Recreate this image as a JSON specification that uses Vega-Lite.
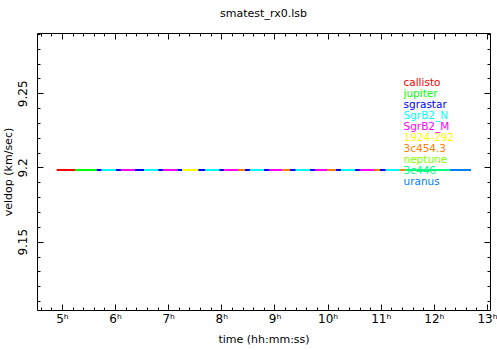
{
  "$schema": "https://vega.github.io/schema/vega-lite/v6.json",
  "width": 453,
  "height": 277,
  "autosize": {"type": "none"},
  "padding": {"left": 37, "top": 33, "right": 7, "bottom": 40},
  "background": "white",
  "title": {"text": "smatest_rx0.lsb", "font": "DejaVu Sans", "fontSize": 11, "fontWeight": "normal", "color": "black", "offset": 14},
  "config": {
    "view": {"stroke": "black", "strokeWidth": 1},
    "font": "DejaVu Sans",
    "axis": {"domain": false, "grid": false, "labelFont": "DejaVu Sans", "labelFontSize": 11, "labelColor": "black", "titleFont": "DejaVu Sans", "titleFontSize": 11, "titleFontWeight": "normal", "titleColor": "black", "tickColor": "black", "labelOverlap": false, "labelBound": false, "labelFlush": false}
  },
  "data": {"values": [
    {"src": "callisto", "t0": 4.90, "t1": 5.245, "v": 9.1983},
    {"src": "jupiter", "t0": 5.245, "t1": 5.653, "v": 9.1983},
    {"src": "sgrastar", "t0": 5.653, "t1": 5.747, "v": 9.1983},
    {"src": "SgrB2_N", "t0": 5.747, "t1": 6.016, "v": 9.1983},
    {"src": "sgrastar", "t0": 6.016, "t1": 6.11, "v": 9.1983},
    {"src": "SgrB2_M", "t0": 6.11, "t1": 6.374, "v": 9.1983},
    {"src": "sgrastar", "t0": 6.374, "t1": 6.549, "v": 9.1983},
    {"src": "SgrB2_N", "t0": 6.549, "t1": 6.813, "v": 9.1983},
    {"src": "sgrastar", "t0": 6.813, "t1": 6.907, "v": 9.1983},
    {"src": "SgrB2_M", "t0": 6.907, "t1": 7.17, "v": 9.1983},
    {"src": "sgrastar", "t0": 7.17, "t1": 7.264, "v": 9.1983},
    {"src": "1924-292", "t0": 7.264, "t1": 7.566, "v": 9.1983},
    {"src": "sgrastar", "t0": 7.566, "t1": 7.692, "v": 9.1983},
    {"src": "SgrB2_N", "t0": 7.692, "t1": 7.961, "v": 9.1983},
    {"src": "sgrastar", "t0": 7.961, "t1": 8.055, "v": 9.1983},
    {"src": "SgrB2_M", "t0": 8.055, "t1": 8.318, "v": 9.1983},
    {"src": "3c454.3", "t0": 8.318, "t1": 8.445, "v": 9.1983},
    {"src": "sgrastar", "t0": 8.445, "t1": 8.539, "v": 9.1983},
    {"src": "SgrB2_N", "t0": 8.539, "t1": 8.802, "v": 9.1983},
    {"src": "sgrastar", "t0": 8.802, "t1": 8.896, "v": 9.1983},
    {"src": "SgrB2_M", "t0": 8.896, "t1": 9.154, "v": 9.1983},
    {"src": "3c454.3", "t0": 9.154, "t1": 9.292, "v": 9.1983},
    {"src": "sgrastar", "t0": 9.292, "t1": 9.399, "v": 9.1983},
    {"src": "SgrB2_N", "t0": 9.399, "t1": 9.668, "v": 9.1983},
    {"src": "sgrastar", "t0": 9.668, "t1": 9.762, "v": 9.1983},
    {"src": "SgrB2_M", "t0": 9.762, "t1": 10.001, "v": 9.1983},
    {"src": "3c454.3", "t0": 10.001, "t1": 10.158, "v": 9.1983},
    {"src": "sgrastar", "t0": 10.158, "t1": 10.252, "v": 9.1983},
    {"src": "SgrB2_N", "t0": 10.252, "t1": 10.515, "v": 9.1983},
    {"src": "sgrastar", "t0": 10.515, "t1": 10.609, "v": 9.1983},
    {"src": "SgrB2_M", "t0": 10.609, "t1": 10.873, "v": 9.1983},
    {"src": "3c454.3", "t0": 10.873, "t1": 10.986, "v": 9.1983},
    {"src": "sgrastar", "t0": 10.986, "t1": 11.093, "v": 9.1983},
    {"src": "SgrB2_N", "t0": 11.093, "t1": 11.362, "v": 9.1983},
    {"src": "3c454.3", "t0": 11.362, "t1": 11.456, "v": 9.1983},
    {"src": "3c446", "t0": 11.456, "t1": 12.30, "v": 9.1983},
    {"src": "uranus", "t0": 12.30, "t1": 12.699, "v": 9.1983}
  ]},
  "layer": [
    {
      "mark": {"type": "rule", "strokeWidth": 2},
      "encoding": {
        "x": {"field": "t0", "type": "quantitative",
          "scale": {"domain": [4.53, 13.056], "nice": false, "zero": false},
          "axis": {"orient": "bottom", "title": "time (hh:mm:ss)", "titlePadding": 6,
            "values": [4.6,4.8,5,5.2,5.4,5.6,5.8,6,6.2,6.4,6.6,6.8,7,7.2,7.4,7.6,7.8,8,8.2,8.4,8.6,8.8,9,9.2,9.4,9.6,9.8,10,10.2,10.4,10.6,10.8,11,11.2,11.4,11.6,11.8,12,12.2,12.4,12.6,12.8,13],
            "labelExpr": "datum.value % 1 == 0 ? datum.value + 'ʰ' : ''",
            "tickSize": {"condition": {"test": "datum.value % 1 == 0", "value": -6}, "value": -3},
            "labelPadding": 9, "labelFontSize": 12}},
        "x2": {"field": "t1"},
        "y": {"field": "v", "type": "quantitative",
          "scale": {"domain": [9.104, 9.2906], "nice": false, "zero": false},
          "axis": {"orient": "left", "title": "veldop (km/sec)", "format": ".2~f",
            "titleX": -29, "titleY": 138.5, "titleAngle": 270, "titleAlign": "center", "titleBaseline": "middle",
            "values": [9.11,9.12,9.13,9.14,9.15,9.16,9.17,9.18,9.19,9.2,9.21,9.22,9.23,9.24,9.25,9.26,9.27,9.28,9.29],
            "labelExpr": "abs(datum.value*20 - round(datum.value*20)) < 0.000001 ? datum.label : ''",
            "tickSize": {"condition": {"test": "abs(datum.value*20 - round(datum.value*20)) < 0.000001", "value": -6}, "value": -3},
            "labelAngle": 270, "labelAlign": "center", "labelBaseline": "bottom", "labelPadding": 14, "labelFontSize": 12}},
        "color": {"field": "src", "type": "nominal",
          "scale": {"domain": ["callisto","jupiter","sgrastar","SgrB2_N","SgrB2_M","1924-292","3c454.3","neptune","3c446","uranus"],
                    "range": ["#ff0000","#00ff00","#0000ff","#00ffff","#ff00ff","#ffff00","#ff8000","#80ff00","#00ff80","#0080ff"]},
          "legend": {"orient": "none", "legendX": 356, "legendY": 45, "title": null,
            "symbolSize": 0, "symbolOpacity": 0, "symbolStrokeWidth": 0, "labelOffset": 0,
            "labelFont": "DejaVu Sans", "labelFontSize": 10.5, "rowPadding": 0,
            "encode": {"labels": {"update": {"fill": {"scale": "color", "field": "value"}}}}}}
      }
    },
    {
      "mark": {"type": "rule", "opacity": 0},
      "encoding": {
        "x": {"field": "t0", "type": "quantitative",
          "scale": {"domain": [4.53, 13.056], "nice": false, "zero": false},
          "axis": {"orient": "top", "title": null, "labels": false,
            "values": [4.6,4.8,5,5.2,5.4,5.6,5.8,6,6.2,6.4,6.6,6.8,7,7.2,7.4,7.6,7.8,8,8.2,8.4,8.6,8.8,9,9.2,9.4,9.6,9.8,10,10.2,10.4,10.6,10.8,11,11.2,11.4,11.6,11.8,12,12.2,12.4,12.6,12.8,13],
            "tickSize": {"condition": {"test": "datum.value % 1 == 0", "value": -6}, "value": -3}}},
        "x2": {"field": "t1"},
        "y": {"field": "v", "type": "quantitative",
          "scale": {"domain": [9.104, 9.2906], "nice": false, "zero": false},
          "axis": {"orient": "right", "title": null, "labels": false,
            "values": [9.11,9.12,9.13,9.14,9.15,9.16,9.17,9.18,9.19,9.2,9.21,9.22,9.23,9.24,9.25,9.26,9.27,9.28,9.29],
            "tickSize": {"condition": {"test": "abs(datum.value*20 - round(datum.value*20)) < 0.000001", "value": -6}, "value": -3}}}
      }
    }
  ],
  "resolve": {"axis": {"x": "independent", "y": "independent"}}
}
